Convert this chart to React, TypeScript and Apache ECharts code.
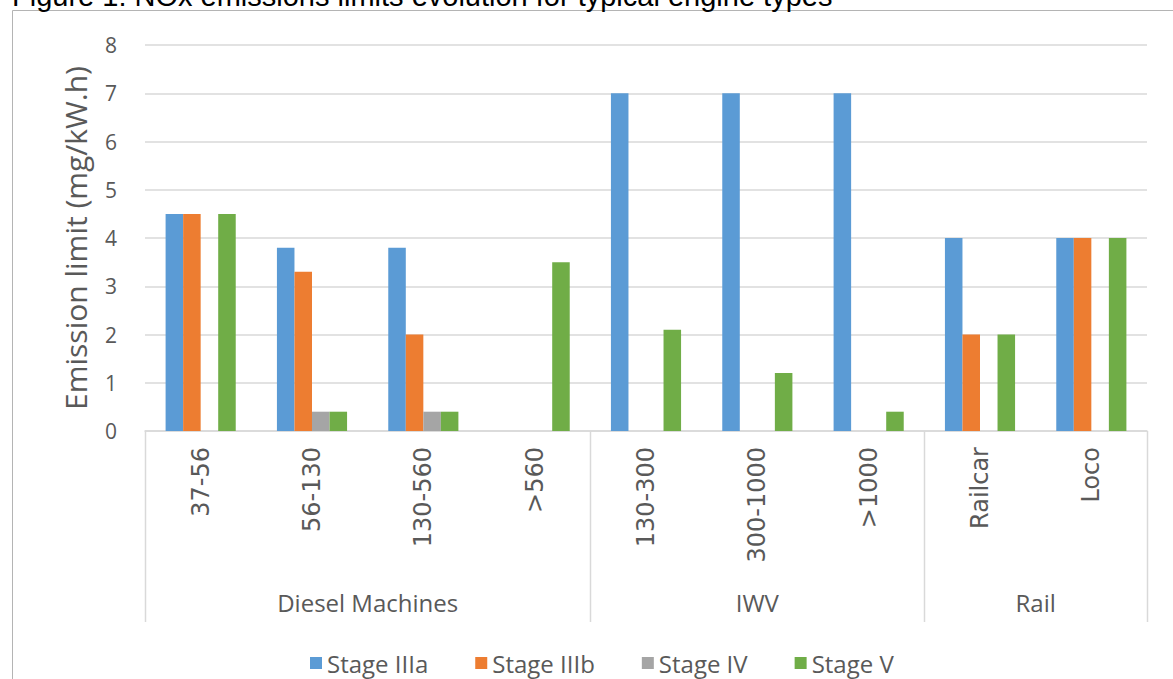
import React, { useEffect, useRef } from "react";
import * as echarts from "echarts";

const titleText = "Figure 1: NOx emissions limits evolution for typical engine types";
const yAxisTitle = "Emission limit (mg/kW.h)";
const categories = ["37-56", "56-130", "130-560", ">560", "130-300", "300-1000", ">1000", "Railcar", "Loco"];
const groupNames = ["Diesel Machines", "IWV", "Rail"];
const groupSizes = [4, 3, 2];
const stageNames = ["Stage IIIa", "Stage IIIb", "Stage IV", "Stage V"];
const stageIIIa = [4.5, 3.8, 3.8, null, 7, 7, 7, 4, 4];
const stageIIIb = [4.5, 3.3, 2, null, null, null, null, 2, 4];
const stageIV = [null, 0.4, 0.4, null, null, null, null, null, null];
const stageV = [4.5, 0.4, 0.4, 3.5, 2.1, 1.2, 0.4, 2, 4];
const yMin = 0;
const yMax = 8;
const yStep = 1;
const stageColors = ["#5b9bd5", "#ed7d31", "#a5a5a5", "#70ad47"];

const GRID_COLOR = "#d9d9d9";
const TEXT_COLOR = "#595959";
const SANS = "'Open Sans', 'Noto Sans', sans-serif";

export default function App() {
  const ref = useRef<HTMLDivElement>(null);
  useEffect(() => {
    if (!ref.current) return;
    const chart = echarts.init(ref.current, null, { renderer: "svg" });
    const seriesData = [stageIIIa, stageIIIb, stageIV, stageV];
    const option: any = {
      animation: false,
      backgroundColor: "#ffffff",
      color: stageColors,
      grid: { left: 145, right: 26, top: 45, bottom: 248, containLabel: false },
      legend: {
        data: stageNames,
        left: 305,
        top: 646,
        padding: 5,
        icon: "rect",
        itemWidth: 12,
        itemHeight: 12,
        itemGap: 47,
        textStyle: { fontFamily: SANS, fontSize: 24, color: TEXT_COLOR },
      },
      xAxis: {
        type: "category",
        data: categories,
        boundaryGap: true,
        axisLine: { show: true, lineStyle: { color: GRID_COLOR, width: 1.5 } },
        axisTick: { show: false },
        axisLabel: {
          rotate: 90,
          interval: 0,
          margin: 16,
          fontFamily: "'DejaVu Sans', Verdana, sans-serif",
          fontSize: 24,
          color: TEXT_COLOR,
        },
      },
      yAxis: {
        type: "value",
        min: yMin,
        max: yMax,
        interval: yStep,
        name: yAxisTitle,
        nameLocation: "middle",
        nameGap: 55,
        nameRotate: 90,
        nameTextStyle: { fontFamily: SANS, fontSize: 30, color: TEXT_COLOR },
        axisLine: { show: false },
        axisTick: { show: false },
        axisLabel: { margin: 28, fontFamily: SANS, fontSize: 21, color: TEXT_COLOR },
        splitLine: { lineStyle: { color: GRID_COLOR, width: 1.5 } },
      },
      series: stageNames.map((name, i) => ({
        name,
        type: "bar",
        data: seriesData[i],
        barGap: "0%",
        barCategoryGap: "37%",
        itemStyle: { color: stageColors[i] },
      })),
      graphic: [
        {
          type: "rect",
          shape: { x: 12.5, y: 10.5, width: 1300, height: 800 },
          style: { fill: "none", stroke: "#b4b4b4", lineWidth: 1 },
          silent: true,
        },
        {
          type: "text",
          x: 12,
          y: -4,
          style: {
            text: titleText,
            fontFamily: "'Liberation Sans', Arial, sans-serif",
            fontSize: 29,
            fill: "#000000",
            verticalAlign: "middle",
            align: "left",
          },
        },
      ],
    };
    chart.setOption(option);

    const c0 = chart.convertToPixel({ xAxisIndex: 0 }, categories[0]) as number;
    const c1 = chart.convertToPixel({ xAxisIndex: 0 }, categories[1]) as number;
    const w = c1 - c0;
    const yBase = chart.convertToPixel({ yAxisIndex: 0 }, 0) as number;
    const extra: any[] = [];
    let idx = 0;
    const bounds: number[] = [c0 - w / 2];
    groupSizes.forEach((size, gi) => {
      const left = c0 - w / 2 + idx * w;
      const right = left + size * w;
      bounds.push(right);
      extra.push({
        type: "text",
        x: (left + right) / 2,
        y: yBase + 171,
        style: {
          text: groupNames[gi],
          fontFamily: SANS,
          fontSize: 24,
          fill: TEXT_COLOR,
          align: "center",
          verticalAlign: "middle",
        },
      });
      idx += size;
    });
    bounds.forEach((bx) => {
      extra.push({
        type: "line",
        shape: { x1: Math.round(bx) + 0.5, y1: yBase, x2: Math.round(bx) + 0.5, y2: yBase + 191 },
        style: { stroke: GRID_COLOR, lineWidth: 1.5 },
        silent: true,
      });
    });
    chart.setOption({ graphic: [...option.graphic, ...extra] });

    return () => chart.dispose();
  }, []);
  return <div ref={ref} style={{ position: "absolute", left: 0, top: 0, width: 1173, height: 679 }} />;
}
